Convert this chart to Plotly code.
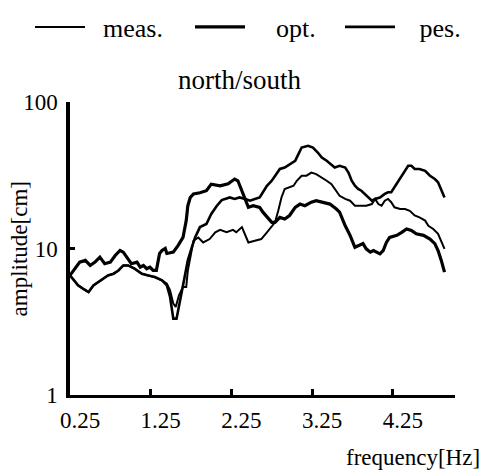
import plotly.graph_objects as go

# early shared path of meas./pes. curves
f_early = [0.25, 0.35, 0.41, 0.48, 0.54, 0.60, 0.66, 0.72, 0.79, 0.85, 0.91, 0.97, 1.05, 1.14, 1.22, 1.30, 1.39]
a_early = [6.55, 5.6, 5.32, 5.04, 5.6, 5.9, 6.22, 6.55, 6.73, 7.08, 7.66, 7.66, 7.28, 6.73, 6.55, 6.38, 6.06]

# opt. (thick)
opt_f = [0.25, 0.37, 0.44, 0.50, 0.56, 0.62, 0.68, 0.75, 0.81, 0.87, 0.91, 0.97, 1.01, 1.08, 1.12, 1.16, 1.20,
         1.24, 1.28, 1.32, 1.34, 1.36, 1.39, 1.43, 1.45, 1.53, 1.59, 1.65, 1.69, 1.71, 1.74, 1.78, 1.86, 1.94,
         2.00, 2.11, 2.21, 2.29, 2.33, 2.38, 2.42, 2.46, 2.52, 2.60, 2.64, 2.71, 2.75, 2.79, 2.85, 2.91, 2.97,
         3.04, 3.10, 3.16, 3.24, 3.30, 3.39, 3.47, 3.55, 3.59, 3.66, 3.72, 3.78, 3.84, 3.88, 3.92, 3.97, 4.01,
         4.05, 4.09, 4.13, 4.17, 4.21, 4.30, 4.36, 4.42, 4.48, 4.54, 4.63, 4.71, 4.77, 4.81, 4.85, 4.89]
opt_a = [6.55, 8.07, 8.29, 7.66, 8.07, 8.73, 7.87, 8.07, 8.96, 9.69, 9.44, 8.51, 7.87, 8.07, 7.46, 7.66, 7.28,
         7.46, 7.08, 7.08, 8.03, 9.25, 9.69, 10.0, 9.25, 9.44, 10.5, 11.9, 15.5, 19.6, 22.3, 23.6, 24.0, 24.8,
         27.5, 26.8, 27.7, 29.8, 29.0, 24.8, 21.2, 19.1, 19.6, 19.1, 17.7, 15.9, 15.1, 15.1, 16.3, 15.9, 16.8,
         19.1, 20.1, 19.6, 20.7, 21.2, 20.7, 20.1, 18.6, 17.7, 14.3, 12.3, 10.2, 10.5, 10.8, 9.95, 9.44, 9.69,
         9.44, 9.2, 9.69, 11.0, 11.9, 12.3, 12.9, 13.6, 13.3, 12.6, 12.3, 11.6, 10.8, 9.69, 8.29, 6.9]

# pes. (medium) after the early path
pes_f = [1.45, 1.49, 1.51, 1.53, 1.57, 1.60, 1.63, 1.67, 1.71, 1.76, 1.80, 1.86, 1.94, 2.00, 2.07, 2.13, 2.23,
         2.29, 2.35, 2.42, 2.48, 2.54, 2.60, 2.64, 2.69, 2.75, 2.81, 2.85, 2.91, 2.97, 3.04, 3.08, 3.12, 3.20,
         3.26, 3.32, 3.37, 3.43, 3.47, 3.53, 3.59, 3.66, 3.70, 3.74, 3.78, 3.82, 3.86, 3.90, 3.94, 3.99, 4.03,
         4.09, 4.15, 4.19, 4.23, 4.27, 4.32, 4.36, 4.40, 4.44, 4.48, 4.52, 4.58, 4.65, 4.71, 4.77, 4.81, 4.85, 4.89]
pes_a = [5.6, 4.67, 3.79, 3.32, 3.32, 3.99, 4.92, 6.38, 8.29, 10.2, 11.9, 14.0, 14.7, 17.2, 19.6, 21.4, 22.3,
         21.8, 22.3, 21.8, 21.2, 21.8, 22.3, 24.2, 26.8, 29.0, 32.2, 34.9, 35.7, 37.7, 39.7, 44.1, 48.9, 50.2,
         48.9, 45.2, 41.8, 39.7, 38.0, 35.7, 36.7, 35.7, 33.0, 29.0, 26.8, 25.5, 24.8, 23.6, 22.3, 21.2, 21.8,
         22.3, 23.6, 24.2, 24.2, 26.1, 29.0, 31.4, 33.9, 36.7, 36.7, 34.9, 34.9, 33.9, 31.4, 29.8, 28.3, 24.8, 22.3]

# meas. (thin) after the early path
meas_f = [1.45, 1.49, 1.53, 1.56, 1.60, 1.65, 1.69, 1.71, 1.74, 1.78, 1.84, 1.90, 1.98, 2.05, 2.11, 2.19, 2.27,
          2.31, 2.38, 2.42, 2.46, 2.54, 2.62, 2.69, 2.75, 2.79, 2.83, 2.87, 2.91, 2.97, 3.02, 3.06, 3.12, 3.18,
          3.24, 3.30, 3.37, 3.43, 3.49, 3.53, 3.59, 3.66, 3.72, 3.78, 3.84, 3.92, 3.99, 4.03, 4.07, 4.11, 4.15,
          4.19, 4.23, 4.27, 4.34, 4.40, 4.46, 4.52, 4.58, 4.65, 4.69, 4.75, 4.81, 4.85, 4.89]
meas_a = [5.75, 5.18, 4.2, 3.99, 4.79, 5.45, 5.45, 7.08, 8.73, 11.3, 11.9, 11.0, 11.6, 12.9, 13.4, 12.9, 13.4,
          12.9, 14.0, 12.3, 11.0, 11.3, 11.6, 12.9, 14.3, 15.1, 18.1, 22.3, 25.5, 26.1, 26.8, 29.0, 31.4, 31.4,
          33.0, 32.2, 30.6, 29.0, 27.5, 25.5, 22.9, 21.8, 21.2, 19.6, 19.6, 19.6, 20.1, 21.8, 20.1, 19.6, 21.2,
          21.8, 20.7, 19.1, 18.6, 18.6, 18.1, 16.8, 16.3, 15.5, 14.3, 13.6, 12.6, 11.3, 9.95]

x_ticks = [0.25, 1.25, 2.25, 3.25, 4.25]
y_ticks = [1, 10, 100]
y_tick_text = ["1", "10", "100"]

FONT = "Tinos"
NB = "\u00a0"

fig = go.Figure()
fig.add_trace(go.Scatter(x=f_early + meas_f, y=a_early + meas_a, mode="lines", name=NB * 2 + "meas.",
                         legend="legend", line=dict(color="black", width=2)))
fig.add_trace(go.Scatter(x=opt_f, y=opt_a, mode="lines", name=NB * 4 + "opt.",
                         legend="legend2", line=dict(color="black", width=3.2)))
fig.add_trace(go.Scatter(x=f_early + pes_f, y=a_early + pes_a, mode="lines", name=NB * 3 + "pes.",
                         legend="legend3", line=dict(color="black", width=2.6)))

leg_common = dict(orientation="h", xref="container", yref="container", y=1 - 27 / 475,
                  xanchor="left", yanchor="middle", itemwidth=50,
                  font=dict(family=FONT, size=26, color="black"), bgcolor="rgba(0,0,0,0)")

fig.update_layout(
    width=488, height=475,
    margin=dict(l=70, r=33, t=102, b=80, autoexpand=False),
    paper_bgcolor="white", plot_bgcolor="white",
    font=dict(family=FONT, size=22, color="black"),
    title=dict(text="north/south", x=0.44, xref="paper", xanchor="center",
               y=1 - 80 / 475, yref="container", yanchor="middle",
               font=dict(family=FONT, size=27, color="black")),
    legend=dict(x=30 / 488, **leg_common),
    legend2=dict(x=190 / 488, **leg_common),
    legend3=dict(x=340 / 488, **leg_common),
    showlegend=True,
    xaxis=dict(range=[0.25, 5.02], tickvals=x_ticks, ticktext=[f"{v:.2f}" for v in x_ticks],
               showline=True, linecolor="black", linewidth=3, ticks="inside", ticklen=6,
               tickwidth=3, tickcolor="black", showgrid=False, zeroline=False,
               ticklabelshift=10, ticklabelstandoff=2,
               tickfont=dict(family=FONT, size=23, color="black")),
    yaxis=dict(type="log", range=[0, 2], tickvals=y_ticks, ticktext=y_tick_text,
               showline=True, linecolor="black", linewidth=3.5, ticks="inside", ticklen=5,
               tickwidth=3, tickcolor="black", showgrid=False, zeroline=False,
               ticklabelstandoff=4,
               tickfont=dict(family=FONT, size=23, color="black")),
    annotations=[
        dict(text="frequency[Hz]", xref="paper", yref="paper", x=1.07, y=-0.215,
             xanchor="right", yanchor="middle", showarrow=False,
             font=dict(family=FONT, size=23, color="black")),
        dict(text="amplitude[cm]", xref="paper", yref="paper", x=-0.13, y=0.5,
             xanchor="center", yanchor="middle", textangle=-90, showarrow=False,
             font=dict(family=FONT, size=23, color="black")),
    ],
)

fig.write_html("out.html", config={"displayModeBar": False},
               post_script="document.body.style.margin='0';")
